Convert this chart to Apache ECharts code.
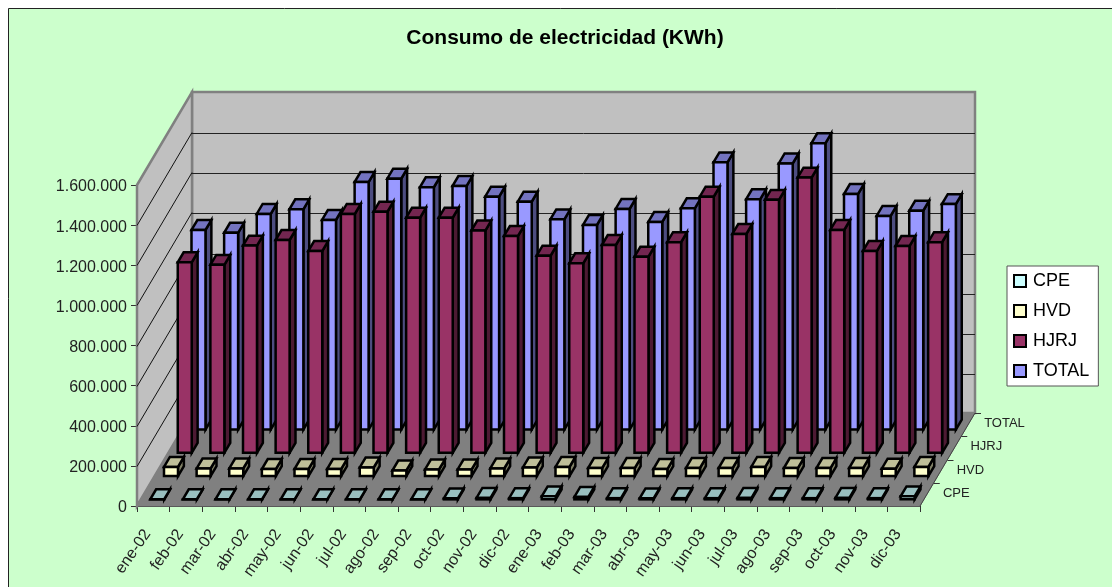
<!DOCTYPE html>
<html>
<head>
<meta charset="utf-8">
<title>Consumo de electricidad</title>
<script src="https://cdn.jsdelivr.net/npm/echarts@6/dist/echarts.min.js"></script>
<style>
    html, body { margin: 0; padding: 0; background: #fff; }
    #chart { width: 1112px; height: 587px; }
</style>
</head>
<body>
<div id="chart"></div>
<script>
var meses = ['ene-02', 'feb-02', 'mar-02', 'abr-02', 'may-02', 'jun-02', 'jul-02', 'ago-02', 'sep-02', 'oct-02', 'nov-02', 'dic-02',
    'ene-03', 'feb-03', 'mar-03', 'abr-03', 'may-03', 'jun-03', 'jul-03', 'ago-03', 'sep-03', 'oct-03', 'nov-03', 'dic-03'];
var profundidad = ['CPE', 'HVD', 'HJRJ', 'TOTAL'];

var cpe = [500, 500, 500, 500, 500, 500, 500, 500, 500, 5000, 7000, 6000, 15000, 12000, 6000, 5000, 6000, 6000, 7000, 6000, 6000, 7000, 6000, 15000];
var hvd = [46000, 38000, 38000, 35000, 35000, 35000, 43000, 28000, 33000, 33000, 38000, 43000, 46000, 40000, 40000, 35000, 41000, 40000, 46000, 40000, 40000, 40000, 37000, 46000];
var hjrj = [950000, 937000, 1033000, 1061000, 1006000, 1191000, 1202000, 1172000, 1172000, 1108000, 1081000, 983000, 945000, 1036000, 978000, 1050000, 1277000, 1091000, 1261000, 1372000, 1111000, 1006000, 1031000, 1050000];
var total = [995000, 981000, 1075000, 1098000, 1045000, 1234000, 1251000, 1208000, 1214000, 1161000, 1136000, 1048000, 1020000, 1100000, 1035000, 1103000, 1332000, 1148000, 1327000, 1427000, 1174000, 1065000, 1091000, 1124000];

// desplazamiento de la perspectiva por cada fila de profundidad
var DX = 55 / 4;
var DY = 93 / 4;
var GAP = 2 / 7;

var coloresFrente = { CPE: '#CCFFFF', HVD: '#FFFFCC', HJRJ: '#993366', TOTAL: '#9999FF' };
var coloresArriba = { CPE: '#99BFBF', HVD: '#BFBF99', HJRJ: '#732650', TOTAL: '#7373BF' };
var coloresLado = { CPE: '#668080', HVD: '#808066', HJRJ: '#4D1A33', TOTAL: '#4D4D80' };

function poly(points, fill, stroke, width) {
    return {
        type: 'polygon',
        shape: { points: points },
        style: { fill: fill, stroke: stroke, lineWidth: width }
    };
}

function line(x1, y1, x2, y2, stroke, width) {
    return {
        type: 'line',
        shape: { x1: x1, y1: y1, x2: x2, y2: y2 },
        style: { stroke: stroke, lineWidth: width }
    };
}

// paredes, suelo, rejilla y eje de profundidad
function renderParedes(params, api) {
    var cs = params.coordSys;
    var izq = cs.x, der = cs.x + cs.width;
    var abajo = cs.y + cs.height, arriba = cs.y;
    var fx = DX * 4, fy = DY * 4;
    var children = [];
    children.push(poly([[izq + fx, arriba - fy], [der + fx, arriba - fy], [der + fx, abajo - fy], [izq + fx, abajo - fy]], '#C0C0C0', '#808080', 2.5));
    children.push(poly([[izq, arriba], [izq + fx, arriba - fy], [izq + fx, abajo - fy], [izq, abajo]], '#C0C0C0', '#808080', 2.5));
    children.push(poly([[izq, abajo], [der, abajo], [der + fx, abajo - fy], [izq + fx, abajo - fy]], '#808080', '#808080', 1));
    for (var v = 200000; v < 1600000; v += 200000) {
        var y = Math.round(api.coord([0, v])[1]) + 0.5;
        children.push(line(izq, y, izq + fx, y - fy, '#111', 1));
        children.push(line(izq + fx, Math.round(y - fy) + 0.5, der + fx, Math.round(y - fy) + 0.5, '#222', 1));
    }
    children.push(line(der, abajo, der + fx, abajo - fy, '#444', 1));
    for (var k = 1; k <= 4; k++) {
        var tx = der + DX * k, ty = Math.round(abajo - DY * k) + 0.5;
        children.push(line(tx, ty, tx + 6, ty, '#333', 1));
    }
    profundidad.forEach(function (nombre, idx) {
        children.push({
            type: 'text',
            style: {
                text: nombre,
                x: der + DX * (idx + 0.5) + 16,
                y: abajo - DY * (idx + 0.5) - 1,
                fill: '#222',
                font: '13px "Liberation Sans", Arial, sans-serif',
                align: 'left',
                verticalAlign: 'middle'
            }
        });
    });
    return { type: 'group', children: children };
}

function renderBarra(nombre) {
    var fila = profundidad.indexOf(nombre);
    return function (params, api) {
        var base = api.coord([api.value(0), 0]);
        var tope = api.coord([api.value(0), api.value(1)]);
        var banda = api.size([1, 0])[0];
        var w = banda * 3 / 7;
        var d0 = fila + GAP, d1 = fila + 1 - GAP;
        var x0 = base[0] - w / 2 + d0 * DX, x1 = x0 + w;
        var yb = base[1] - d0 * DY, yt = tope[1] - d0 * DY;
        var ox = (d1 - d0) * DX, oy = (d1 - d0) * DY;
        return {
            type: 'group',
            children: [
                poly([[x1, yb], [x1 + ox, yb - oy], [x1 + ox, yt - oy], [x1, yt]], coloresLado[nombre], '#000', 2.5),
                poly([[x0, yt], [x1, yt], [x1 + ox, yt - oy], [x0 + ox, yt - oy]], coloresArriba[nombre], '#000', 2.5),
                poly([[x0, yb], [x1, yb], [x1, yt], [x0, yt]], coloresFrente[nombre], '#000', 2.5)
            ]
        };
    };
}

function serieBarra(nombre, valores, z) {
    return {
        name: nombre,
        type: 'custom',
        renderItem: renderBarra(nombre),
        clip: false,
        silent: true,
        z: z,
        itemStyle: { color: coloresFrente[nombre] },
        encode: { x: 0, y: 1 },
        data: valores.map(function (v, i) {
            return [i, v];
        })
    };
}

var myChart = echarts.init(document.getElementById('chart'));
var option = {
    animation: false,
    backgroundColor: '#fff',
    textStyle: { fontFamily: '"Liberation Sans", Arial, sans-serif' },
    title: {
        text: 'Consumo de electricidad (KWh)',
        left: 560,
        top: 23,
        textAlign: 'center',
        textStyle: { fontSize: 21, fontWeight: 'bold', color: '#000' }
    },
    graphic: [{
        type: 'rect',
        z: -1,
        silent: true,
        shape: { x: 8.5, y: 8.5, width: 1200, height: 700 },
        style: { fill: '#CCFFCC', stroke: '#222', lineWidth: 1 }
    }],
    legend: {
        orient: 'vertical',
        left: 1007,
        top: 266,
        padding: [6, 9, 6, 6],
        itemGap: 12,
        itemWidth: 12,
        itemHeight: 12,
        icon: 'rect',
        backgroundColor: '#fff',
        borderColor: '#555',
        borderWidth: 1,
        selectedMode: false,
        data: profundidad,
        itemStyle: { borderColor: '#000', borderWidth: 2 },
        textStyle: { fontSize: 18, color: '#000', padding: [0, 0, 0, 2], lineHeight: 18 }
    },
    grid: { left: 137, top: 185, width: 783, height: 321 },
    xAxis: {
        type: 'category',
        data: meses,
        boundaryGap: true,
        axisLine: { lineStyle: { color: '#333', width: 1 } },
        axisTick: { show: true, length: 6, interval: 0, lineStyle: { color: '#333' } },
        axisLabel: { interval: 0, rotate: 55, fontSize: 16, color: '#222', margin: 17, padding: [0, 10, 0, 0] }
    },
    yAxis: {
        type: 'value',
        min: 0,
        max: 1600000,
        interval: 200000,
        splitLine: { show: false },
        axisLine: { show: true, lineStyle: { color: '#333', width: 1 } },
        axisTick: { show: true, length: 6, lineStyle: { color: '#333' } },
        axisLabel: {
            fontSize: 16,
            color: '#222',
            margin: 10,
            verticalAlign: 'top',
            lineHeight: 4,
            formatter: function (value) {
                return String(value).replace(/\B(?=(\d{3})+$)/g, '.');
            }
        }
    },
    series: [
        {
            type: 'custom',
            name: 'paredes',
            renderItem: renderParedes,
            clip: false,
            silent: true,
            z: 1,
            encode: { x: 0, y: 1 },
            data: [[0, 0]]
        },
        serieBarra('TOTAL', total, 2),
        serieBarra('HJRJ', hjrj, 3),
        serieBarra('HVD', hvd, 4),
        serieBarra('CPE', cpe, 5)
    ]
};
myChart.setOption(option);
window.onresize = myChart.resize;
</script>
</body>
</html>
